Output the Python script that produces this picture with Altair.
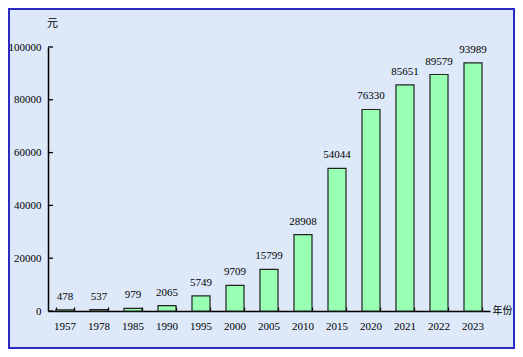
import altair as alt
import pandas as pd

years = ["1957", "1978", "1985", "1990", "1995", "2000", "2005",
         "2010", "2015", "2020", "2021", "2022", "2023"]
values = [478, 537, 979, 2065, 5749, 9709, 15799, 28908, 54044,
          76330, 85651, 89579, 93989]
y_ticks = [0, 20000, 40000, 60000, 80000, 100000]

df = pd.DataFrame({"year": years, "value": values})
df_ticks = pd.DataFrame({"value": y_ticks})

W, H = 442, 264
FONT = "Liberation Serif, Times New Roman, serif"
CJK = "Noto Sans CJK SC"
PAD = {"left": 40, "top": 39, "right": 25, "bottom": 38}

xscale = alt.Scale(paddingInner=0.47, paddingOuter=0.235)
yscale = alt.Scale(domain=[0, 100000], nice=False)

bars = alt.Chart(df).mark_bar(
    fill="#99ffb3", stroke="#222222", strokeWidth=1.2
).encode(
    x=alt.X("year:N", sort=years, scale=xscale,
            axis=alt.Axis(title="年份", titleAngle=0, titleX=W + 12, titleY=-1,
                          titleAlign="center", titleBaseline="middle",
                          titleFont=CJK, titleFontSize=10, titleFontWeight="normal",
                          titleColor="#000", titleLimit=40,
                          ticks=False, tickSize=0, labelPadding=9, labelAngle=0,
                          labelFont=FONT, labelFontSize=11, labelColor="#000",
                          domainColor="#000", domainWidth=1.5)),
    y=alt.Y("value:Q", scale=yscale,
            axis=alt.Axis(values=y_ticks, format="d", title="元", titleAngle=0,
                          titleX=4, titleY=-24,
                          titleAlign="center", titleBaseline="middle",
                          titleFont=CJK, titleFontSize=11, titleFontWeight="normal",
                          titleColor="#000",
                          ticks=False, tickSize=0, labelPadding=7, grid=False,
                          labelFont=FONT, labelFontSize=11, labelColor="#000",
                          domainColor="#000", domainWidth=1.5)),
)

text = alt.Chart(df).mark_text(
    dy=-13, baseline="middle", font=FONT, fontSize=11, color="#000"
).encode(
    x=alt.X("year:N", sort=years, scale=xscale,
            axis=alt.Axis(orient="top", offset=-H, labels=False, domain=False,
                          tickBand="extent", tickSize=4, tickColor="#000",
                          tickWidth=1.3, title=None, grid=False)),
    y=alt.Y("value:Q", scale=yscale),
    text=alt.Text("value:Q", format="d"),
)

yticks = alt.Chart(df_ticks).mark_rule(color="#000", strokeWidth=1.3).encode(
    y=alt.Y("value:Q", scale=yscale),
    x=alt.value(0),
    x2=alt.value(5),
)

border = alt.Chart(pd.DataFrame({"a": [0]})).mark_rect(
    fillOpacity=0, stroke="#2b2bc4", strokeWidth=2
).encode(
    x=alt.value(-PAD["left"] + 1),
    x2=alt.value(W + PAD["right"] - 1),
    y=alt.value(-PAD["top"] + 1),
    y2=alt.value(H + PAD["bottom"] - 1),
)

chart = alt.layer(bars, text, yticks, border).resolve_axis(
    x="independent"
).properties(
    width=W, height=H, padding=PAD,
    autosize=alt.AutoSizeParams(type="none"),
    background="#dde9f9",
).configure(font=FONT).configure_view(stroke=None)

chart.save("out.html", embed_options={"renderer": "svg", "actions": False})
